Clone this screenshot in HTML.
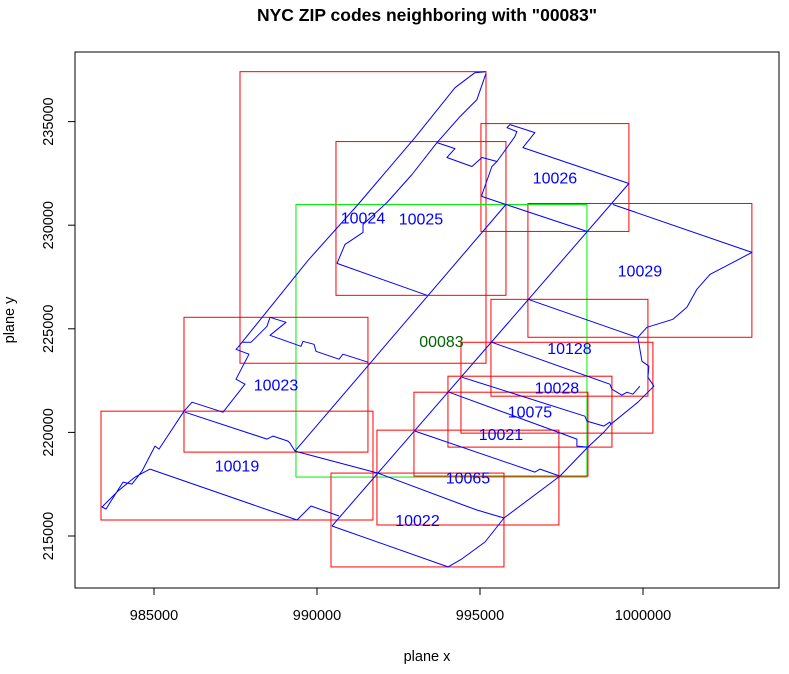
<!DOCTYPE html>
<html><head><meta charset="utf-8">
<style>
body{margin:0;background:#fff;}
svg text{font-family:"Liberation Sans",Arial,sans-serif;}
</style></head>
<body>
<svg id="chart" width="789" height="669" viewBox="0 0 789 669" xmlns="http://www.w3.org/2000/svg">
<rect x="0" y="0" width="789" height="669" fill="#fff"/>
<text x="427" y="21" text-anchor="middle" font-size="17.5" font-weight="bold">NYC ZIP codes neighboring with "00083"</text>
<g id="marks"></g>
<rect x="75" y="52" width="704" height="536" fill="none" stroke="#000" stroke-width="1"/>
<g id="axes"></g>
<text x="427" y="661" text-anchor="middle" font-size="14.5">plane x</text>
<text transform="translate(14,320) rotate(-90)" text-anchor="middle" font-size="14.5">plane y</text>
</svg>
<script>
const xTicks = [985000, 990000, 995000, 1000000];
const yTicks = [215000, 220000, 225000, 230000, 235000];
const zipNames = ["10024","10025","10026","10029","00083","10023","10019","10128","10028","10075","10021","10065","10022"];
const boxXmin = [987638,990582,995029,996470,989355,985920,983374,995336,994416,994017,992974,991839,990429];
const boxXmax = [995184,995796,999568,1003340,998280,991563,991717,1000151,1000304,999047,998311,997421,995735];
const boxYmin = [223338,226615,229699,224591,217844,219049,215772,221748,219965,219290,217892,215531,213507];
const boxYmax = [237410,234036,234904,231048,231000,225555,221025,226422,224350,222712,221940,220109,218037];
const shapeLines = [
 [[990459,215483],[999568,232012]],
 [[989324,219097],[995796,231000]],
 [[994017,213507],[994446,213893],[995152,214712],[995735,215869],[997452,217893],[998311,219290],[998802,220013],[999016,220398],[999844,221459],[1000335,222230],[1000151,222663],[1000182,223193],[999967,223434],[999844,224591],[1000120,225073],[1000918,225458],[1001347,226037],[1001654,226904],[1002053,227627],[1002758,228205],[1003341,228687],[999078,231000]],
 [[999568,232012],[996317,233747],[996685,234470],[995919,234855],[995827,234711],[996133,234518],[996072,234277],[995520,233072],[995366,232831],[995060,231482],[995060,231386],[995796,231000],[998280,229699]],
 [[990613,228157],[990858,229073],[991410,229651],[991410,230036],[992146,231097],[992913,232446],[993680,233988],[994232,233699],[993986,233265],[994753,232831],[995060,233265],[995520,233072]],
 [[990613,228157],[993373,226615]],
 [[993680,233988],[994385,235241],[994906,236060],[995182,237313]],
 [[987576,224109],[989723,228302],[991257,231000],[993005,234229],[994232,236638],[994845,237361],[995182,237410]],
 [[987576,224109],[987515,224013],[987914,223772],[987515,222567],[987791,222326],[987116,220977],[986165,221459],[985920,221025],[985153,219194],[985031,219338],[984632,218133],[984325,217507],[984049,217603],[983528,216302],[983405,216399],[983896,217170],[984417,217844],[984877,218230]],
 [[984877,218230],[989386,215772],[989815,216447],[990674,215965]],
 [[985951,220977],[988466,219676],[988650,219820],[989110,219579],[989171,219483],[989324,219097],[991870,218037]],
 [[988558,225555],[989048,225314],[988558,224687],[989508,224157],[989570,224398],[989907,224254],[989969,223916],[990674,223531],[990797,223772],[991563,223386]],
 [[987699,224350],[987975,224350],[988466,225121],[988558,225555]],
 [[996471,226422],[999814,224591]],
 [[995366,224350],[998986,222326],[999047,222085],[999354,221796],[999507,221941],[999691,221844],[999906,222230]],
 [[994446,222663],[998219,220784],[998280,220543],[998802,220302],[998986,220495],[999016,220398]],
 [[994048,221941],[997973,219676],[997973,219338],[998311,219290]],
 [[993005,220061],[996685,218085],[996839,218230],[997452,217893]],
 [[991870,218037],[994569,216447],[994906,216254],[995735,215869]],
 [[990459,215483],[994017,213507]]
];
const NS="http://www.w3.org/2000/svg";
function xs(v){return 154+(v-985000)/5000*163;}
function ys(v){return 121.6+(235000-v)/5000*103.6;}
const marks=document.getElementById('marks');
const axes=document.getElementById('axes');
function mk(t,attrs,parent){const e=document.createElementNS(NS,t);for(const k in attrs)e.setAttribute(k,attrs[k]);parent.appendChild(e);return e;}
zipNames.forEach((z,i)=>{
  const r=mk('rect',{x:xs(boxXmin[i]),y:ys(boxYmax[i]),width:xs(boxXmax[i])-xs(boxXmin[i]),height:ys(boxYmin[i])-ys(boxYmax[i]),fill:'none',stroke:z==='00083'?'#00ee00':'#ff0000','stroke-width':1},marks);
  
  
});
shapeLines.forEach((pts,i)=>{
  const p=mk('polyline',{points:pts.map(q=>xs(q[0]).toFixed(1)+','+ys(q[1]).toFixed(1)).join(' '),fill:'none',stroke:'#0000ff','stroke-width':1,'stroke-linejoin':'round'},marks);
  
  
});
zipNames.forEach((z,i)=>{
  const cx=(xs(boxXmin[i])+xs(boxXmax[i]))/2, cy=(ys(boxYmin[i])+ys(boxYmax[i]))/2;
  const t=mk('text',{x:cx,y:cy+6,'text-anchor':'middle','font-size':16,fill:z==='00083'?'#006400':'#0000ff'},marks);
  t.textContent=z;
  
  
});
const xl=mk('line',{x1:xs(xTicks[0]),x2:xs(xTicks[xTicks.length-1]),y1:588,y2:588,stroke:'#000'},axes);


xTicks.forEach(v=>{
  const l=mk('line',{x1:xs(v),x2:xs(v),y1:588,y2:595,stroke:'#000'},axes);
  
  
  const t=mk('text',{x:xs(v),y:620,'text-anchor':'middle','font-size':14.5},axes);
  t.textContent=v;
  
  
});
const yl=mk('line',{x1:75,x2:75,y1:ys(yTicks[0]),y2:ys(yTicks[yTicks.length-1]),stroke:'#000'},axes);


yTicks.forEach(v=>{
  const l=mk('line',{x1:68,x2:75,y1:ys(v),y2:ys(v),stroke:'#000'},axes);
  
  
  const t=mk('text',{transform:'translate(53,'+ys(v)+') rotate(-90)','text-anchor':'middle','font-size':14.5},axes);
  t.textContent=v;
  
  
});
</script>
</body></html>
